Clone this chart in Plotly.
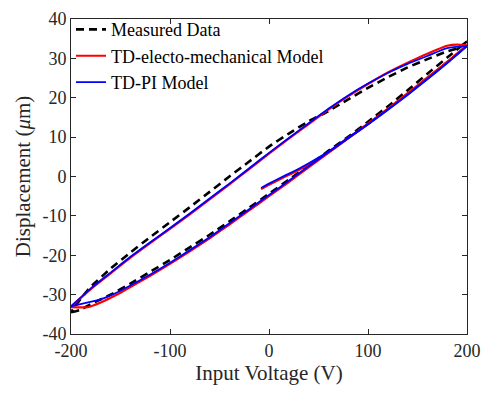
import plotly.graph_objects as go

# ---- Measured data (black dashed) ----
meas_up_V = [200, 190, 180, 160, 140, 120, 100, 80, 60, 40, 20, 0, -20, -40, -60, -80, -100, -120, -140, -160, -180, -190, -200]
meas_up_D = [34.3, 32.5, 31.8, 29.8, 27.7, 25.2, 22.5, 19.6, 16.6, 14.0, 10.9, 7.6, 3.8, 0.0, -3.9, -7.8, -11.6, -15.4, -19.3, -23.4, -28.0, -31.0, -34.5]
meas_lo_V = [-200, -190, -180, -160, -140, -120, -100, -80, -60, -40, -20, 0, 20, 40, 60, 80, 100, 120, 140, 160, 180, 200]
meas_lo_D = [-34.5, -33.8, -32.4, -30.0, -27.2, -24.2, -21.2, -18.0, -14.8, -11.4, -7.9, -4.4, -0.8, 2.8, 6.5, 10.1, 13.9, 17.8, 21.9, 26.1, 30.2, 34.3]

# ---- TD-electo-mechanical model (red) ----
em_init_V = [-8, 0, 15, 31, 48, 65, 80, 100, 120, 140, 160, 180, 200]
em_init_D = [-3.2, -2.1, -0.2, 1.8, 4.2, 7.0, 9.8, 13.4, 17.2, 21.1, 25.1, 29.1, 33.3]
em_up_V = [200, 190, 180, 160, 140, 120, 100, 80, 60, 40, 20, 0, -20, -40, -60, -80, -100, -120, -140, -160, -180, -200]
em_up_D = [33.3, 33.5, 33.2, 31.2, 28.9, 26.4, 23.5, 20.4, 17.0, 13.3, 9.6, 5.8, 1.9, -2.0, -5.8, -9.6, -13.3, -16.9, -20.6, -24.6, -28.6, -33.0]
em_lo_V = [-200, -183, -170, -160, -150, -140, -120, -100, -80, -60, -40, -20, 0, 20, 40, 60, 80, 100, 120, 140, 160, 180, 200]
em_lo_D = [-33.2, -33.2, -32.0, -30.8, -29.5, -28.1, -25.2, -22.2, -19.0, -15.7, -12.2, -8.6, -5.0, -1.4, 2.3, 6.0, 9.7, 13.4, 17.2, 21.1, 25.1, 29.1, 33.3]

# ---- TD-PI model (blue) ----
pi_init_V = [-8, 0, 15, 31, 48, 65, 80, 100, 120, 140, 160, 180, 200]
pi_init_D = [-2.9, -1.8, 0.1, 2.1, 4.5, 7.2, 9.9, 13.3, 17.0, 20.8, 24.8, 28.8, 33.1]
pi_up_V = [200, 180, 160, 140, 120, 100, 80, 60, 40, 20, 0, -20, -40, -60, -80, -100, -120, -140, -160, -180, -200]
pi_up_D = [33.1, 32.6, 30.6, 28.6, 26.3, 23.6, 20.6, 17.2, 13.5, 9.8, 6.0, 2.1, -1.8, -5.6, -9.4, -13.1, -16.7, -20.4, -24.4, -28.4, -33.0]
pi_lo_V = [-200, -185, -170, -160, -150, -140, -120, -100, -80, -60, -40, -20, 0, 20, 40, 60, 80, 100, 120, 140, 160, 180, 200]
pi_lo_D = [-33.0, -32.1, -31.2, -30.2, -29.0, -27.7, -24.9, -21.9, -18.7, -15.4, -11.9, -8.3, -4.7, -1.1, 2.6, 6.2, 9.7, 13.2, 16.9, 20.7, 24.7, 28.8, 33.1]

x_ticks = [-200, -100, 0, 100, 200]
y_ticks = [-40, -30, -20, -10, 0, 10, 20, 30, 40]

FONT = "Liberation Serif"
AX = "#262626"


def join(*segs):
    """Concatenate path segments with a None break so each is smoothed separately."""
    out = []
    for i, s in enumerate(segs):
        if i:
            out.append(None)
        out.extend(s)
    return out


fig = go.Figure()
fig.add_trace(go.Scatter(
    x=join(meas_up_V, meas_lo_V), y=join(meas_up_D, meas_lo_D), mode="lines",
    name="Measured Data", connectgaps=False,
    line=dict(color="black", width=2.6, dash="8px,5px", shape="spline", smoothing=0.5)))
fig.add_trace(go.Scatter(
    x=join(em_init_V, em_up_V, em_lo_V), y=join(em_init_D, em_up_D, em_lo_D), mode="lines",
    name="TD-electo-mechanical Model", connectgaps=False,
    line=dict(color="#ff0000", width=2.2, shape="spline", smoothing=0.5)))
fig.add_trace(go.Scatter(
    x=join(pi_init_V, pi_up_V, pi_lo_V), y=join(pi_init_D, pi_up_D, pi_lo_D), mode="lines",
    name="TD-PI Model", connectgaps=False,
    line=dict(color="#0000ff", width=1.8, shape="spline", smoothing=0.5)))

axis_common = dict(
    showline=True, linecolor=AX, linewidth=1, mirror="ticks",
    ticks="inside", ticklen=5, tickcolor=AX, tickwidth=1,
    showgrid=False, zeroline=False, automargin=False,
    tickfont=dict(family=FONT, size=18, color=AX),
)

fig.update_layout(
    width=482, height=393,
    margin=dict(l=71, r=15, t=11, b=59),
    paper_bgcolor="white", plot_bgcolor="white",
    font=dict(family=FONT, color=AX),
    xaxis=dict(range=[-200, 200], tickvals=x_ticks, ticktext=[str(v) for v in x_ticks],
               title=dict(text="Input Voltage (V)", font=dict(family=FONT, size=21, color=AX), standoff=4),
               **axis_common),
    yaxis=dict(range=[-40, 40], tickvals=y_ticks, ticktext=[str(v) for v in y_ticks],
               title=dict(text="Displacement (<i>μ</i>m)", font=dict(family=FONT, size=21, color=AX), standoff=6),
               **axis_common),
    legend=dict(x=0.0, y=1.025, xanchor="left", yanchor="top",
                bgcolor="rgba(0,0,0,0)", borderwidth=0,
                font=dict(family=FONT, size=18, color="black"),
                itemwidth=30, tracegroupgap=0),
    showlegend=True,
)

fig.write_html("out.html")
